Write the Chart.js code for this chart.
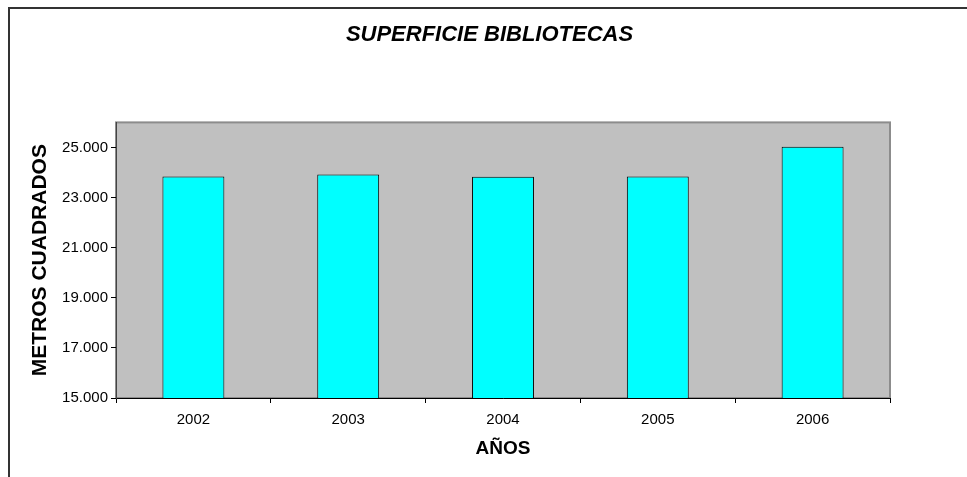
<!DOCTYPE html>
<html>
<head>
<meta charset="utf-8">
<script src="https://cdn.jsdelivr.net/npm/chart.js@4/dist/chart.umd.min.js"></script>
<style>
	html, body { margin: 0; padding: 0; background: #fff; }
	#chart { display: block; }
</style>
</head>
<body>
<canvas id="chart" width="967" height="477"></canvas>
<script>
var years = ['2002', '2003', '2004', '2005', '2006'];
var superficie = [23840, 23920, 23830, 23840, 25030];
var yTicks = [15000, 17000, 19000, 21000, 23000, 25000];

function miles(v) {
	var s = String(Math.round(v));
	return s.replace(/\B(?=(\d{3})+(?!\d))/g, '.');
}

var frame = {
	id: 'frame',
	beforeDraw: function (chart) {
		var ctx = chart.ctx, a = chart.chartArea;
		ctx.save();
		ctx.fillStyle = '#c0c0c0';
		ctx.fillRect(a.left, a.top, a.right - a.left, a.bottom - a.top);
		ctx.strokeStyle = '#8c8c8c';
		ctx.lineWidth = 2;
		ctx.strokeRect(a.left, a.top, a.right - a.left, a.bottom - a.top);
		// outer border (only top and left visible)
		ctx.strokeStyle = '#333';
		ctx.lineWidth = 2;
		ctx.beginPath();
		ctx.moveTo(9, 477);
		ctx.lineTo(9, 8);
		ctx.lineTo(967, 8);
		ctx.stroke();
		ctx.restore();
	}
};

new Chart(document.getElementById('chart'), {
	type: 'bar',
	data: {
		labels: years,
		datasets: [{
			data: superficie,
			backgroundColor: '#00ffff',
			borderColor: '#000',
			borderWidth: 1,
			borderSkipped: false,
			categoryPercentage: 1,
			barPercentage: 0.4
		}]
	},
	options: {
		responsive: false,
		animation: false,
		layout: { padding: { left: 12, top: 10, right: 0, bottom: 0 } },
		plugins: {
			legend: { display: false },
			tooltip: { enabled: false },
			title: {
				display: true,
				text: 'SUPERFICIE BIBLIOTECAS',
				color: '#000',
				font: { family: 'Liberation Sans', size: 22, weight: 'bold', style: 'italic' },
				padding: { top: 12, bottom: 74 }
			}
		},
		scales: {
			x: {
				grid: { offset: true, drawOnChartArea: false, tickLength: 5, color: '#000' },
				border: { color: '#000', width: 1 },
				ticks: { color: '#000', padding: 8, font: { family: 'Liberation Sans', size: 15 } },
				title: {
					display: true,
					text: 'AÑOS',
					color: '#000',
					font: { family: 'Liberation Sans', size: 19, weight: 'bold' },
					padding: { top: 0, bottom: 17 }
				},
				afterFit: function (s) { s.height = 79; }
			},
			y: {
				min: 15000,
				max: 26000,
				afterBuildTicks: function (s) {
					s.ticks = yTicks.map(function (v) { return { value: v }; });
				},
				grid: { drawOnChartArea: false, tickLength: 5, color: '#000' },
				border: { color: '#444', width: 1 },
				ticks: {
					color: '#000',
					padding: 3,
					font: { family: 'Liberation Sans', size: 15 },
					callback: function (v) { return miles(v); }
				},
				title: {
					display: true,
					text: 'METROS CUADRADOS',
					color: '#000',
					font: { family: 'Liberation Sans', size: 21, weight: 'bold' },
					padding: { top: 16, bottom: 0 }
				},
				afterFit: function (s) { s.width = 104; }
			},
			yRight: {
				position: 'right',
				min: 15000,
				max: 26000,
				grid: { display: false },
				border: { display: false },
				ticks: { display: false },
				afterFit: function (s) { s.width = 77; }
			}
		}
	},
	plugins: [frame]
});
</script>
</body>
</html>
